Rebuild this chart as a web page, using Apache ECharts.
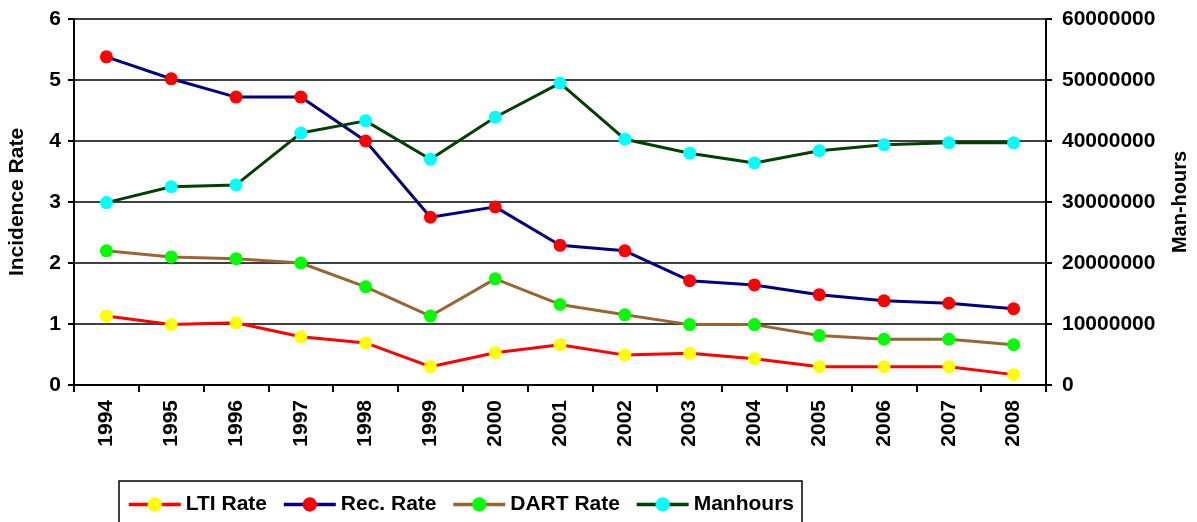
<!DOCTYPE html>
<html>
<head>
<meta charset="utf-8">
<script src="https://cdn.jsdelivr.net/npm/echarts@6/dist/echarts.min.js"></script>
<style>
html,body{margin:0;padding:0;background:#fff;}
#chart{width:1197px;height:522px;}
</style>
</head>
<body>
<div id="chart"></div>
<script>
const years = ['1994','1995','1996','1997','1998','1999','2000','2001','2002','2003','2004','2005','2006','2007','2008'];
const ltiRate = [1.13,0.99,1.02,0.79,0.69,0.30,0.53,0.66,0.49,0.52,0.43,0.30,0.30,0.30,0.17];
const recRate = [5.38,5.02,4.72,4.72,4.00,2.75,2.92,2.29,2.20,1.71,1.64,1.48,1.38,1.34,1.25];
const dartRate = [2.20,2.10,2.07,2.00,1.61,1.13,1.74,1.32,1.15,0.99,0.99,0.81,0.75,0.75,0.66];
const manhours = [29900000,32500000,32800000,41300000,43300000,37000000,43900000,49500000,40300000,38000000,36400000,38400000,39400000,39700000,39700000];

const FONT = '"Liberation Sans", Arial, sans-serif';
const chart = echarts.init(document.getElementById('chart'));

function mkSeries(name, data, lineColor, markColor, yIdx) {
  return {
    name: name, type: 'line', data: data, yAxisIndex: yIdx,
    symbol: 'circle', symbolSize: 13,
    lineStyle: {color: lineColor, width: 3},
    itemStyle: {color: markColor},
    emphasis: {disabled: true},
    animation: false
  };
}

chart.setOption({
  backgroundColor: '#fff',
  animation: false,
  grid: {left: 74, right: 151, top: 19, bottom: 137, outerBoundsMode: 'none', containLabel: false},
  legend: {
    left: 119, top: 481,
    padding: [13, 8, 30, 8],
    borderColor: '#000', borderWidth: 1.5,
    backgroundColor: '#fff',
    itemWidth: 52, itemHeight: 18, itemGap: 15,
    lineStyle: {width: 3.5},
    textStyle: {fontFamily: FONT, fontWeight: 'bold', fontSize: 21, color: '#000'},
    data: ['LTI Rate','Rec. Rate','DART Rate','Manhours']
  },
  xAxis: {
    type: 'category', data: years, boundaryGap: true,
    axisLine: {lineStyle: {color: '#000', width: 2}},
    axisTick: {show: true, length: 7, lineStyle: {color: '#000', width: 2}},
    axisLabel: {rotate: 90, margin: 15, fontFamily: FONT, fontWeight: 'bold', fontSize: 21, color: '#000'},
    splitLine: {show: false}
  },
  yAxis: [{
    type: 'value', min: 0, max: 6, interval: 1, position: 'left',
    name: 'Incidence Rate', nameLocation: 'middle', nameGap: 46, nameRotate: 90,
    nameTextStyle: {fontFamily: FONT, fontWeight: 'bold', fontSize: 21, color: '#000'},
    axisLine: {show: true, lineStyle: {color: '#000', width: 2}},
    axisTick: {show: true, length: 6, lineStyle: {color: '#000', width: 2}},
    axisLabel: {margin: 13, fontFamily: FONT, fontWeight: 'bold', fontSize: 21, color: '#000'},
    splitLine: {show: true, lineStyle: {color: '#000', width: 1.5}}
  }, {
    type: 'value', min: 0, max: 60000000, interval: 10000000, position: 'right',
    name: 'Man-hours', nameLocation: 'middle', nameGap: 124, nameRotate: 90,
    nameTextStyle: {fontFamily: FONT, fontWeight: 'bold', fontSize: 20, color: '#000'},
    axisLine: {show: true, lineStyle: {color: '#000', width: 2}},
    axisTick: {show: true, length: 6, lineStyle: {color: '#000', width: 2}},
    axisLabel: {margin: 16, fontFamily: FONT, fontWeight: 'bold', fontSize: 21, color: '#000',
      formatter: function (v) { return String(v); }},
    splitLine: {show: false}
  }],
  series: [
    mkSeries('LTI Rate', ltiRate, '#FF0000', '#FFFF00', 0),
    mkSeries('Rec. Rate', recRate, '#000080', '#FF0000', 0),
    mkSeries('DART Rate', dartRate, '#996633', '#00FF00', 0),
    mkSeries('Manhours', manhours, '#004000', '#00FFFF', 1)
  ]
});
</script>
</body>
</html>
